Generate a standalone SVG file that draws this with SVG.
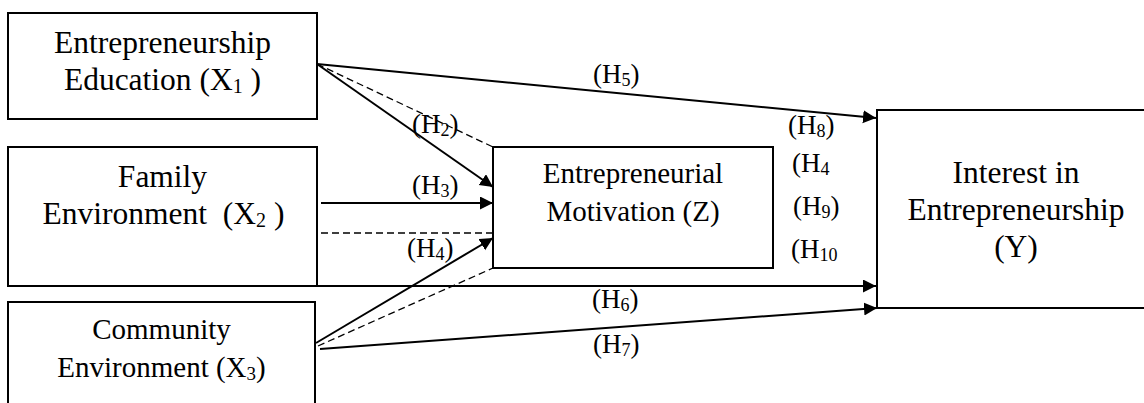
<svg xmlns="http://www.w3.org/2000/svg" width="1144" height="403" viewBox="0 0 1144 403">
<style>
.box{fill:#fff;stroke:#000;stroke-width:2}
.nt{font-family:"Liberation Serif","Times New Roman",serif;fill:#000;text-anchor:middle}
.lb{font-family:"Liberation Serif","Times New Roman",serif;font-size:27px;fill:#000}
.s{stroke:#000;stroke-width:2;fill:none}
.d{stroke:#000;stroke-width:1.3;fill:none;stroke-dasharray:7 4}
</style>
<defs>
<marker id="ah" markerUnits="userSpaceOnUse" markerWidth="14" markerHeight="14" refX="13" refY="6.5" orient="auto">
<path d="M0,0 L13,6.5 L0,13 z" fill="#000"/>
</marker>
</defs>
<rect width="1144" height="403" fill="#fff"/>
<g id="connectors">
<line class="s" x1="317" y1="64" x2="876" y2="118" marker-end="url(#ah)"/>
<line class="s" x1="317" y1="64" x2="493" y2="187" marker-end="url(#ah)"/>
<line class="d" x1="317" y1="64" x2="493" y2="147"/>
<line class="s" x1="321" y1="203" x2="493" y2="203" marker-end="url(#ah)"/>
<line class="d" x1="321" y1="233" x2="493" y2="233"/>
<line class="s" x1="316" y1="343" x2="493" y2="238" marker-end="url(#ah)"/>
<line class="d" x1="318" y1="346" x2="493" y2="268"/>
<line class="s" x1="317" y1="286" x2="876" y2="286" marker-end="url(#ah)"/>
<line class="s" x1="320" y1="349" x2="877" y2="308" marker-end="url(#ah)"/>
</g>
<g id="X1">
<rect class="box" x="8" y="13" width="309" height="106"/>
<text class="nt" font-size="31.5" x="162.5" y="53">Entrepreneurship</text>
<text class="nt" font-size="31.5" x="162.5" y="90">Education (X<tspan font-size="20" dy="3">1</tspan><tspan dy="-3"> )</tspan></text>
</g>
<g id="X2">
<rect class="box" x="8" y="147" width="309" height="139"/>
<text class="nt" font-size="31.5" x="162.5" y="187">Family</text>
<text class="nt" font-size="31.5" x="163.5" y="224" style="white-space:pre">Environment  (X<tspan font-size="20" dy="3">2</tspan><tspan dy="-3"> )</tspan></text>
</g>
<g id="X3">
<rect class="box" x="8" y="302" width="307" height="120"/>
<text class="nt" font-size="29" x="161.5" y="339">Community</text>
<text class="nt" font-size="29" x="161.5" y="377">Environment (X<tspan font-size="19" dy="3">3</tspan><tspan dy="-3">)</tspan></text>
</g>
<g id="Z">
<rect class="box" x="493" y="147" width="280" height="121"/>
<text class="nt" font-size="29" x="633" y="183">Entrepreneurial</text>
<text class="nt" font-size="29" x="633" y="221">Motivation (Z)</text>
</g>
<g id="Y">
<rect class="box" x="877" y="110" width="280" height="198"/>
<text class="nt" font-size="31.5" x="1016" y="183">Interest in</text>
<text class="nt" font-size="31.5" x="1016" y="220">Entrepreneurship</text>
<text class="nt" font-size="31.5" x="1016" y="257">(Y)</text>
</g>
<g id="labels">
<text class="lb" x="412" y="133">(H<tspan font-size="18" dy="3">2</tspan><tspan dy="-3">)</tspan></text>
<text class="lb" x="412" y="194">(H<tspan font-size="18" dy="3">3</tspan><tspan dy="-3">)</tspan></text>
<text class="lb" x="407" y="257">(H<tspan font-size="18" dy="3">4</tspan><tspan dy="-3">)</tspan></text>
<text class="lb" x="593" y="83">(H<tspan font-size="18" dy="3">5</tspan><tspan dy="-3">)</tspan></text>
<text class="lb" x="788" y="134">(H<tspan font-size="18" dy="3">8</tspan><tspan dy="-3">)</tspan></text>
<text class="lb" x="792" y="172">(H<tspan font-size="18" dy="3">4</tspan></text>
<text class="lb" x="793" y="215">(H<tspan font-size="18" dy="3">9</tspan><tspan dy="-3">)</tspan></text>
<text class="lb" x="791" y="258">(H<tspan font-size="18" dy="3">10</tspan></text>
<text class="lb" x="592" y="308">(H<tspan font-size="18" dy="3">6</tspan><tspan dy="-3">)</tspan></text>
<text class="lb" x="593" y="353">(H<tspan font-size="18" dy="3">7</tspan><tspan dy="-3">)</tspan></text>
</g>
</svg>
